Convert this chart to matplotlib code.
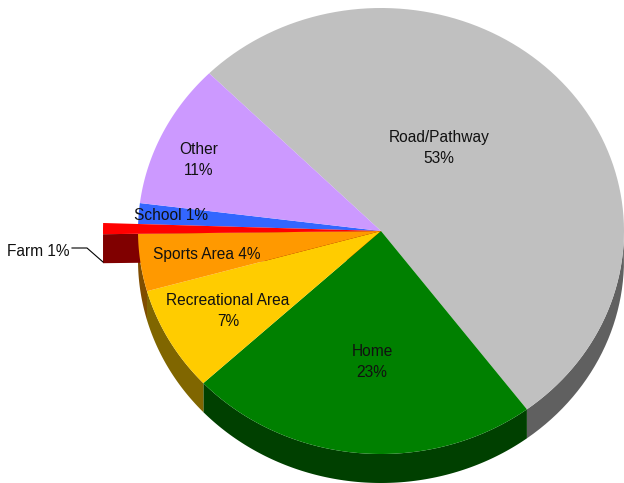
import numpy as np
import matplotlib
matplotlib.use("Agg")
import matplotlib.pyplot as plt

plt.rcParams['font.family'] = ['Liberation Sans', 'DejaVu Sans']

labels = ["Road/Pathway\n53%", "Home\n23%", "Recreational Area\n7%", "Sports Area 4%",
          "Farm 1%", "School 1%", "Other\n11%"]
values = [52.25, 23.3, 7.6, 4.15, 0.7, 1.5, 10.5]
colors = ["#C0C0C0", "#008000", "#FFCC00", "#FF9900", "#FF0000", "#3366FF", "#CC99FF"]
side_colors = ["#606060", "#004000", "#806600", "#804D00", "#800000", "#1A3380", "#664D80"]
explode = [0, 0, 0, 0, 35, 0, 0]

W, H = 624, 483
cx, cy = 381, 231
rx, ry = 243, 223
depth = 29
start = 135.0

fig = plt.figure(figsize=(W / 100, H / 100), dpi=100)
ax = fig.add_axes([0, 0, 1, 1])
ax.set_xlim(0, W)
ax.set_ylim(H, 0)
ax.axis("off")

# slice angles, clockwise from the start angle
angles = start - np.cumsum([0] + values) * 3.6


def rim(t0, t1, extra=0):
    t = np.radians(np.linspace(t0, t1, 100))
    return cx + (rx + extra) * np.cos(t), cy - ry * np.sin(t) * (rx + extra) / rx


# walls of the normal slices
for i in range(len(values)):
    if explode[i]:
        continue
    x, y = rim(angles[i], angles[i + 1])
    # only the part of the rim facing down gets a wall
    keep = np.sin(np.radians(np.linspace(angles[i], angles[i + 1], 100))) <= 0
    if keep.sum() < 2:
        continue
    x, y = x[keep], y[keep]
    ax.fill(np.r_[x, x[::-1]], np.r_[y, y[::-1] + depth], color=side_colors[i], lw=0, zorder=1)

# tops
for i in range(len(values)):
    x, y = rim(angles[i], angles[i + 1], explode[i])
    if explode[i]:
        # the pulled slice shows its lower cut face as a dark wall, mostly hidden by the top
        ax.fill([x[0], cx, cx, x[0]], [y[0], cy, cy + depth, y[0] + depth],
                color=side_colors[i], lw=0, zorder=1.5)
        ax.fill(np.r_[cx, x], np.r_[cy, y], color=colors[i], lw=0, zorder=4)
    else:
        ax.fill(np.r_[cx, x], np.r_[cy, y], color=colors[i], lw=0, zorder=3)

# inner labels
label_pos = [(439, 148), (372, 362), (228, 311), (207, 254), None, (171, 216), (199, 160)]
for lab, pos in zip(labels, label_pos):
    if pos is None:
        continue
    ax.text(pos[0], pos[1], lab, ha="center", va="center", fontsize=11.2,
            color="#111111", linespacing=1.55, zorder=6)

# outside label with its leader line
ax.text(7, 251, labels[4], ha="left", va="center", fontsize=11.2, color="#111111", zorder=6)
ax.plot([72, 87, 103], [248, 248, 262], color="black", lw=0.8, zorder=6)

fig.savefig("out.png", dpi=100)
